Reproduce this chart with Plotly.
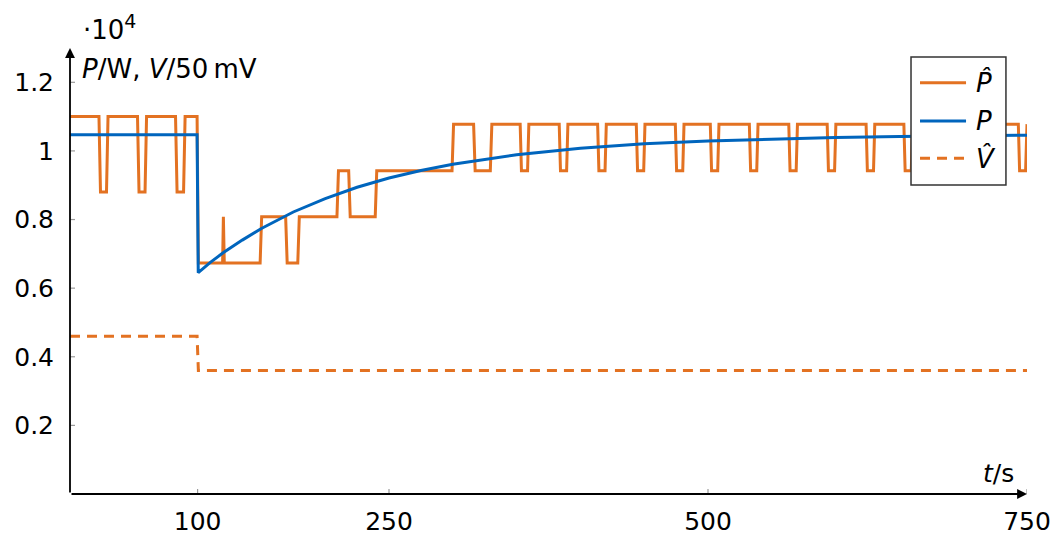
import plotly.graph_objects as go

# ---- data -------------------------------------------------------------
# estimated power P-hat (quantised), vertices of the step signal
phat_t = [
    0, 22.7, 23.9, 28.6, 29.8, 52.9, 54.1, 58.8, 60.0, 82.7, 83.9, 89.0, 90.2, 99.6,
    100.6, 119.6, 120.2, 120.9, 149.0, 150.2, 169.0, 170.2, 178.5, 179.7, 209.2,
    210.4, 218.4, 219.6, 239.2, 240.4, 299.4, 300.6, 316.3, 317.5, 329.4, 330.6,
    352.8, 353.8, 358.6, 359.6,
    383.4, 384.4, 389.2, 390.2,
    413.5, 414.5, 419.3, 420.3,
    443.8, 444.8, 449.6, 450.6,
    474.4, 475.4, 480.2, 481.2,
    501.8, 502.8, 507.6, 508.6,
    532.4, 533.4, 538.2, 539.2,
    563.3, 564.3, 569.1, 570.1,
    593.4, 594.4, 599.2, 600.2,
    623.9, 624.9, 629.7, 630.7,
    653.5, 654.5, 659.3, 660.3,
    683.4, 684.4, 689.2, 690.2,
    713.3, 714.3, 719.1, 720.1,
    743.2, 744.2, 748.9, 749.8, 750,
]
phat_val = [
    1.10, 1.10, 0.88, 0.88, 1.10, 1.10, 0.88, 0.88, 1.10, 1.10, 0.88, 0.88, 1.10, 1.10,
    0.673, 0.673, 0.808, 0.673, 0.673, 0.808, 0.808, 0.673, 0.673, 0.808, 0.808,
    0.942, 0.942, 0.808, 0.808, 0.942, 0.942, 1.078, 1.078, 0.942, 0.942, 1.078,
    1.078, 0.942, 0.942, 1.078,
    1.078, 0.942, 0.942, 1.078,
    1.078, 0.942, 0.942, 1.078,
    1.078, 0.942, 0.942, 1.078,
    1.078, 0.942, 0.942, 1.078,
    1.078, 0.942, 0.942, 1.078,
    1.078, 0.942, 0.942, 1.078,
    1.078, 0.942, 0.942, 1.078,
    1.078, 0.942, 0.942, 1.078,
    1.078, 0.942, 0.942, 1.078,
    1.078, 0.942, 0.942, 1.078,
    1.078, 0.942, 0.942, 1.078,
    1.078, 0.942, 0.942, 1.078,
    1.078, 0.942, 0.942, 1.078, 1.078,
]

# actual power P
p_t = [0, 99.6, 100.5, 110, 120, 125, 135, 150, 175, 200, 225, 250, 275, 300,
       350, 400, 450, 500, 550, 600, 650, 700, 750]
p_val = [1.047, 1.047, 0.645, 0.675, 0.703, 0.716, 0.740, 0.774, 0.822, 0.861,
         0.894, 0.921, 0.943, 0.961, 0.989, 1.008, 1.021, 1.029, 1.035, 1.039,
         1.042, 1.044, 1.046]

# estimated voltage V-hat
v_t = [0, 99.6, 100.6, 750]
v_val = [0.46, 0.46, 0.36, 0.36]

x_ticks = [100, 250, 500, 750]
y_ticks = [0.2, 0.4, 0.6, 0.8, 1.0, 1.2]
y_ticktext = ["0.2", "0.4", "0.6", "0.8", "1", "1.2"]

legend_labels = ["<i>P\u0302</i>", "<i>P</i>", "<i>V\u0302</i>"]

X_MAX = 750
Y_MAX = 1.3

ORANGE = "#E37222"
BLUE = "#0065BD"
FONT = "DejaVu Sans"
LW = 3

# ---- figure -------------------------------------------------------------
series = [
    (phat_t, phat_val, dict(color=ORANGE, width=LW)),
    (p_t, p_val, dict(color=BLUE, width=LW)),
    (v_t, v_val, dict(color=ORANGE, width=LW, dash="10px,7px")),
]

fig = go.Figure()
for (xs, ys, line), label in zip(series, legend_labels):
    fig.add_trace(go.Scatter(x=xs, y=ys, mode="lines", name=label, line=line,
                             showlegend=False))

# small tick marks crossing the axes
shapes = []
for xv in x_ticks:
    shapes.append(dict(type="line", xref="x", yref="y", x0=xv, x1=xv,
                       ysizemode="pixel", yanchor=0, y0=-5, y1=5,
                       line=dict(color="#9a9a9a", width=1.2)))
for yv in y_ticks:
    shapes.append(dict(type="line", xref="x", yref="y", y0=yv, y1=yv,
                       xsizemode="pixel", xanchor=0, x0=-5, x1=5,
                       line=dict(color="#9a9a9a", width=1.2)))

annotations = [
    # axis arrows
    dict(x=X_MAX, y=0, ax=0, ay=0, xref="x", yref="y", axref="x", ayref="y",
         text="", showarrow=True, arrowhead=2, arrowsize=1.1, arrowwidth=1.8,
         arrowcolor="black"),
    dict(x=0, y=Y_MAX, ax=0, ay=0, xref="x", yref="y", axref="x", ayref="y",
         text="", showarrow=True, arrowhead=2, arrowsize=1.1, arrowwidth=1.8,
         arrowcolor="black"),
    # axis labels
    dict(x=0.0105, y=0.953, xref="paper", yref="paper", xanchor="left",
         yanchor="middle", showarrow=False,
         text="<i>P</i>/W, <i>V</i>/50\u2009mV", font=dict(size=26, family=FONT)),
    dict(x=0.011, y=1.047, xref="paper", yref="paper", xanchor="left",
         yanchor="middle", showarrow=False,
         text="\u00b710<sup><span style='font-size:19px'>4</span></sup>",
         font=dict(size=26, family=FONT)),
    dict(x=0.9885, y=0.047, xref="paper", yref="paper", xanchor="right",
         yanchor="middle", showarrow=False,
         text="<i>t</i>/s", font=dict(size=25, family=FONT)),
]

# legend box drawn on top of the curves
LEG_X0, LEG_X1, LEG_Y0, LEG_Y1 = 0.8788, 0.978, 0.6928, 0.9798
shapes.append(dict(type="rect", xref="paper", yref="paper",
                   x0=LEG_X0, x1=LEG_X1, y0=LEG_Y0, y1=LEG_Y1,
                   fillcolor="white", line=dict(color="#333333", width=1.5),
                   layer="above"))
leg_rows = [0.9222, 0.8363, 0.7527]
for (xs, ys, line), label, ly in zip(series, legend_labels, leg_rows):
    shapes.append(dict(type="line", xref="paper", yref="paper",
                       x0=0.8882, x1=0.9363, y0=ly, y1=ly, line=line,
                       layer="above"))
    annotations.append(dict(x=0.9447, y=ly, xref="paper", yref="paper",
                            xanchor="left", yanchor="middle", showarrow=False,
                            text=label, font=dict(size=26, family=FONT)))

fig.update_layout(
    width=1054, height=535,
    margin=dict(l=70, r=27, t=48, b=41, autoexpand=False),
    paper_bgcolor="white", plot_bgcolor="white",
    font=dict(family=FONT, size=25, color="black"),
    showlegend=False,
    shapes=shapes,
    annotations=annotations,
)
fig.update_xaxes(range=[0, X_MAX], showgrid=False, zeroline=False, showline=False,
                 tickvals=x_ticks, ticks="", ticklabelstandoff=10, automargin=False,
                 tickfont=dict(size=25, family=FONT))
fig.update_yaxes(range=[0, Y_MAX], showgrid=False, zeroline=False, showline=False,
                 tickvals=y_ticks, ticktext=y_ticktext, ticks="", automargin=False,
                 ticklabelstandoff=15, tickfont=dict(size=25, family=FONT))

fig.write_html("out.html")
